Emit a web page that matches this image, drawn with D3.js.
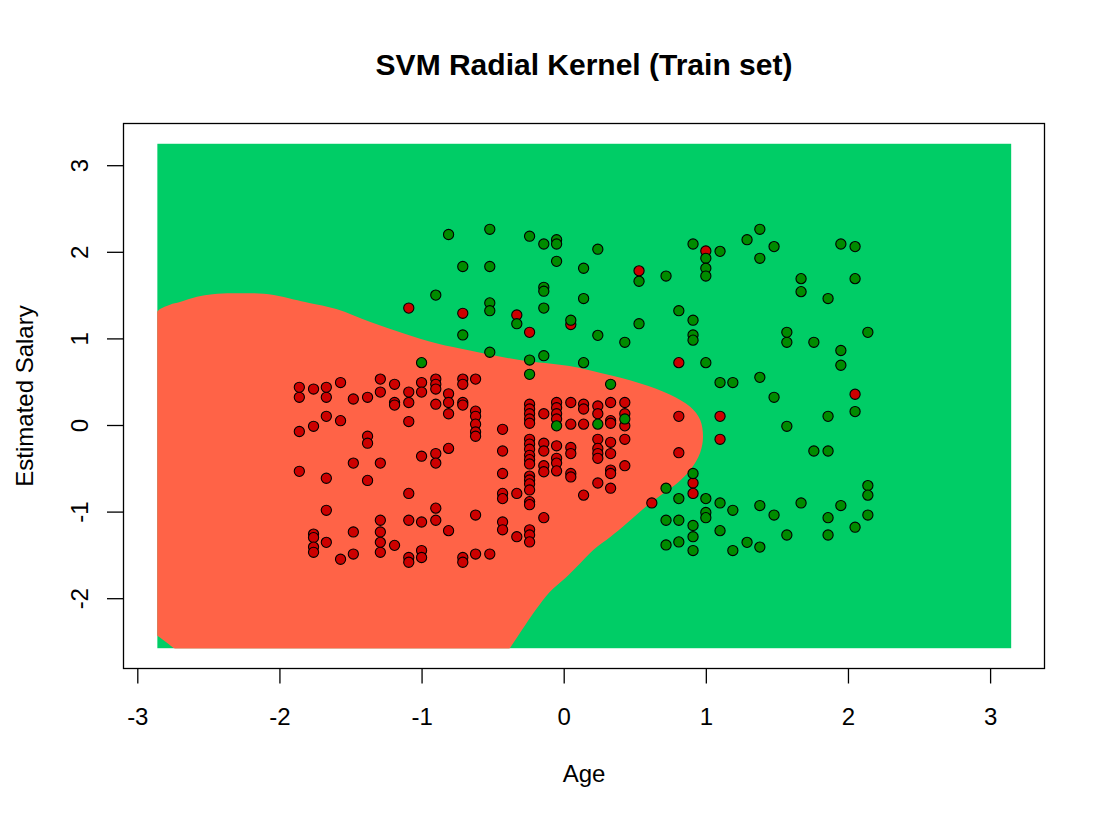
<!DOCTYPE html>
<html>
<head lang="en">
    <meta charset="UTF-8">
    <script type="text/javascript" src="https://d3js.org/d3.v7.min.js"></script>
    <style>
        body { margin: 0; background: #ffffff; }
        text { font-family: "Liberation Sans", Arial, sans-serif; fill: #000000; }
    </style>
</head>
<body>
    <svg id="svm_plot" width="1108" height="822"></svg>
    <script>

        // Plot text
        var chartTitle = "SVM Radial Kernel (Train set)";
        var xLabel = "Age";
        var yLabel = "Estimated Salary";

        // Tick values on both axes
        var xTicks = [-3, -2, -1, 0, 1, 2, 3];
        var yTicks = [-2, -1, 0, 1, 2, 3];

        // Extent of the prediction grid (min - 1, max + 1 of the scaled features)
        var gridX = [-2.86, 3.15];
        var gridY = [-2.58, 3.25];

        // Outline of the region predicted as 0 (the rest of the grid is predicted 1).
        // Points past the grid edge only keep the corners sharp, the grid clips them.
        var classZeroRegion = [
            [-3.00, 1.18], [-2.86, 1.31], [-2.84, 1.34], [-2.77, 1.39], [-2.70, 1.42], [-2.58, 1.48],
            [-2.47, 1.51], [-2.33, 1.52], [-2.18, 1.52], [-2.04, 1.50], [-1.90, 1.45],
            [-1.79, 1.41], [-1.60, 1.34], [-1.36, 1.19], [-1.13, 1.06], [-0.89, 0.94],
            [-0.66, 0.86], [-0.31, 0.75], [0.04, 0.68], [0.26, 0.60], [0.54, 0.48],
            [0.75, 0.35], [0.89, 0.21], [0.96, 0.06], [0.98, -0.14], [0.96, -0.32],
            [0.89, -0.52], [0.80, -0.67], [0.70, -0.79], [0.58, -0.94], [0.44, -1.14],
            [0.33, -1.29], [0.21, -1.44], [0.09, -1.64], [0.01, -1.77], [-0.10, -1.93],
            [-0.19, -2.12], [-0.27, -2.31], [-0.38, -2.58], [-0.49, -2.85],
            [-2.52, -2.85], [-2.74, -2.58], [-2.82, -2.48], [-2.90, -2.38], [-3.00, -2.20]
        ];

        // Training points, [scaled age, scaled salary], class 0 (not purchased)
        var notPurchased = [
            [-1.86, 0.435], [-1.86, 0.32], [-1.86, -0.075], [-1.86, -0.535],
            [-1.76, 0.415], [-1.76, -0.015], [-1.76, -1.26], [-1.76, -1.30], [-1.76, -1.41], [-1.76, -1.47],
            [-1.67, 0.435], [-1.67, 0.32], [-1.67, 0.10], [-1.67, -0.615], [-1.67, -0.985], [-1.67, -1.355],
            [-1.57, 0.49], [-1.57, 0.05], [-1.57, -1.55],
            [-1.48, 0.30], [-1.48, -0.44], [-1.48, -1.235], [-1.48, -1.49],
            [-1.38, 0.32], [-1.38, -0.13], [-1.38, -0.21], [-1.38, -0.64],
            [-1.29, 0.53], [-1.29, 0.38], [-1.29, -0.44], [-1.29, -1.10], [-1.29, -1.235], [-1.29, -1.355], [-1.29, -1.47],
            [-1.19, 0.47], [-1.19, 0.26], [-1.19, 0.23], [-1.19, -1.39],
            [-1.09, 1.35], [-1.09, 0.38], [-1.09, 0.26], [-1.09, 0.04], [-1.09, -0.79], [-1.09, -1.10], [-1.09, -1.53], [-1.09, -1.585],
            [-1.00, 0.49], [-1.00, 0.38], [-1.00, -0.36], [-1.00, -1.12], [-1.00, -1.45], [-1.00, -1.53],
            [-0.90, 0.53], [-0.90, 0.47], [-0.90, 0.415], [-0.90, 0.24], [-0.90, -0.33], [-0.90, -0.44], [-0.90, -0.96], [-0.90, -1.10],
            [-0.81, 0.36], [-0.81, 0.26], [-0.81, 0.13], [-0.81, -0.27], [-0.81, -1.22],
            [-0.71, 1.29], [-0.71, 0.53], [-0.71, 0.47], [-0.71, 0.26], [-0.71, 0.23], [-0.71, -1.53], [-0.71, -1.585],
            [-0.62, 0.53], [-0.62, 0.16], [-0.62, 0.10], [-0.62, 0.01], [-0.62, -0.08], [-0.62, -0.13], [-0.62, -1.04], [-0.62, -1.49],
            [-0.52, -1.49],
            [-0.43, -0.05], [-0.43, -0.30], [-0.43, -0.56], [-0.43, -0.79], [-0.43, -0.85], [-0.43, -1.12], [-0.43, -1.21],
            [-0.33, 1.27], [-0.33, -0.79], [-0.33, -1.29],
            [-0.24, 1.07], [-0.24, 0.24], [-0.24, 0.185], [-0.24, 0.13], [-0.24, 0.07], [-0.24, 0.02],
            [-0.24, -0.165], [-0.24, -0.22], [-0.24, -0.28], [-0.24, -0.35], [-0.24, -0.40], [-0.24, -0.45],
            [-0.24, -0.59], [-0.24, -0.635], [-0.24, -0.68], [-0.24, -0.75], [-0.24, -0.885], [-0.24, -0.92],
            [-0.24, -1.21], [-0.24, -1.27], [-0.24, -1.35],
            [-0.14, 0.13], [-0.14, -0.21], [-0.14, -0.30], [-0.14, -0.47], [-0.14, -0.54], [-0.14, -1.07],
            [-0.05, 0.26], [-0.05, 0.20], [-0.05, 0.13], [-0.05, 0.07], [-0.05, -0.24], [-0.05, -0.385], [-0.05, -0.44], [-0.05, -0.53],
            [0.05, 1.16], [0.05, 0.26], [0.05, 0.01], [0.05, -0.26], [0.05, -0.33], [0.05, -0.56], [0.05, -0.60],
            [0.14, 0.24], [0.14, 0.185], [0.14, 0.01], [0.14, -0.81],
            [0.24, 0.22], [0.24, 0.13], [0.24, -0.165], [0.24, -0.27], [0.24, -0.33], [0.24, -0.385], [0.24, -0.67],
            [0.33, 0.26], [0.33, 0.05], [0.33, 0.02], [0.33, -0.20], [0.33, -0.33], [0.33, -0.52], [0.33, -0.56], [0.33, -0.73],
            [0.43, 0.26], [0.43, 0.13], [0.43, -0.01], [0.43, -0.165], [0.43, -0.47],
            [0.53, 1.78],
            [0.62, -0.90],
            [0.81, 0.72], [0.81, 0.10], [0.81, -0.32],
            [0.91, -0.67], [0.91, -0.79],
            [1.00, 2.01],
            [1.10, 0.10], [1.10, -0.165],
            [2.05, 0.355]
        ];

        // Training points, [scaled age, scaled salary], class 1 (purchased)
        var purchased = [
            [-1.00, 0.72],
            [-0.90, 1.50],
            [-0.81, 2.20],
            [-0.71, 1.83], [-0.71, 1.04],
            [-0.52, 2.26], [-0.52, 1.83], [-0.52, 1.41], [-0.52, 1.32], [-0.52, 0.84],
            [-0.33, 1.17],
            [-0.24, 2.18], [-0.24, 0.75], [-0.24, 0.585],
            [-0.14, 2.09], [-0.14, 1.59], [-0.14, 1.545], [-0.14, 1.35], [-0.14, 0.80],
            [-0.05, 2.14], [-0.05, 2.09], [-0.05, 1.89], [-0.05, -0.01],
            [0.05, 1.21],
            [0.14, 1.81], [0.14, 1.46], [0.14, 0.72],
            [0.24, 2.03], [0.24, 1.035], [0.24, 0.01],
            [0.33, 0.47],
            [0.43, 0.955], [0.43, 0.07],
            [0.53, 1.66], [0.53, 1.17],
            [0.72, 1.72], [0.72, -0.73], [0.72, -1.10], [0.72, -1.385],
            [0.81, 1.32], [0.81, -0.85], [0.81, -1.10], [0.81, -1.35],
            [0.91, 2.09], [0.91, 1.21], [0.91, 1.04], [0.91, 0.98], [0.91, -0.56], [0.91, -1.16], [0.91, -1.29], [0.91, -1.45],
            [1.00, 1.925], [1.00, 1.81], [1.00, 1.72], [1.00, 0.72], [1.00, -0.85], [1.00, -1.01], [1.00, -1.07],
            [1.10, 2.005], [1.10, 0.49], [1.10, -0.90], [1.10, -1.22],
            [1.19, 0.49], [1.19, -0.985], [1.19, -1.45],
            [1.29, 2.14], [1.29, -1.355],
            [1.38, 2.26], [1.38, 1.925], [1.38, 0.55], [1.38, -0.93], [1.38, -1.41],
            [1.48, 2.06], [1.48, 0.32], [1.48, -1.04],
            [1.57, 1.07], [1.57, 0.955], [1.57, -0.015], [1.57, -1.27],
            [1.67, 1.69], [1.67, 1.54], [1.67, -0.90],
            [1.76, 0.955], [1.76, -0.30],
            [1.86, 1.46], [1.86, 0.10], [1.86, -0.30], [1.86, -1.07], [1.86, -1.27],
            [1.95, 2.09], [1.95, 0.86], [1.95, 0.69], [1.95, -0.93],
            [2.05, 2.06], [2.05, 1.69], [2.05, 0.155], [2.05, -1.18],
            [2.14, 1.07], [2.14, -0.70], [2.14, -0.81], [2.14, -1.04]
        ];

        var colZeroRegion = "#FF6347";   // tomato
        var colOneRegion = "#00CD66";    // springgreen3
        var colZeroPoint = "#CD0000";    // red3
        var colOnePoint = "#008B00";     // green4

        // Plot box
        var boxLeft = 123.5, boxRight = 1044.5, boxTop = 123.5, boxBottom = 668.5;

        var xScale = d3.scaleLinear().domain([-3, 3]).range([137.3, 990.1]);
        var yScale = d3.scaleLinear().domain([-2, 3]).range([598.2, 165.2]);

        // plain hyphen minus like R
        function tickText(d){ return String(d); }

        var svg = d3.select("#svm_plot");

        svg.append("rect")
            .attr("width", 1108)
            .attr("height", 822)
            .attr("fill", "#ffffff");

        // Clip everything to the prediction grid
        svg.append("clipPath")
            .attr("id", "gridClip")
            .append("rect")
                .attr("x", xScale(gridX[0]))
                .attr("y", yScale(gridY[1]))
                .attr("width", xScale(gridX[1]) - xScale(gridX[0]))
                .attr("height", yScale(gridY[0]) - yScale(gridY[1]));

        var regionGroup = svg.append("g").attr("clip-path", "url(#gridClip)");

        // Background = class 1 region
        regionGroup.append("rect")
            .attr("x", xScale(gridX[0]))
            .attr("y", yScale(gridY[1]))
            .attr("width", xScale(gridX[1]) - xScale(gridX[0]))
            .attr("height", yScale(gridY[0]) - yScale(gridY[1]))
            .attr("fill", colOneRegion);

        // Class 0 region
        var regionLine = d3.line()
            .x(function(d){ return xScale(d[0]); })
            .y(function(d){ return yScale(d[1]); })
            .curve(d3.curveCatmullRomClosed.alpha(0.5));

        regionGroup.append("path")
            .datum(classZeroRegion)
            .attr("d", regionLine)
            .attr("fill", colZeroRegion);

        // Training points
        var allPoints = notPurchased.map(function(d){ return {x: d[0], y: d[1], cls: 0}; })
            .concat(purchased.map(function(d){ return {x: d[0], y: d[1], cls: 1}; }));

        svg.append("g")
            .selectAll("circle")
            .data(allPoints)
            .enter()
            .append("circle")
                .attr("cx", function(d){ return xScale(d.x); })
                .attr("cy", function(d){ return yScale(d.y); })
                .attr("r", 5.1)
                .attr("fill", function(d){ return d.cls === 0 ? colZeroPoint : colOnePoint; })
                .attr("stroke", "#000000")
                .attr("stroke-width", 1.1);

        // Box
        svg.append("rect")
            .attr("x", boxLeft)
            .attr("y", boxTop)
            .attr("width", boxRight - boxLeft)
            .attr("height", boxBottom - boxTop)
            .attr("fill", "none")
            .attr("stroke", "#000000")
            .attr("stroke-width", 1.3);

        // Axes
        var xAxis = svg.append("g")
            .attr("transform", "translate(0," + boxBottom + ")")
            .call(d3.axisBottom(xScale).tickValues(xTicks).tickSize(15).tickPadding(24).tickFormat(tickText));
        xAxis.select(".domain").remove();
        xAxis.selectAll(".tick line").attr("stroke", "#000000").attr("stroke-width", 1.3);
        xAxis.selectAll(".tick text")
            .style("font-family", "'Liberation Sans', Arial, sans-serif")
            .style("font-size", "24px")
            .attr("fill", "#000000");

        var yAxis = svg.append("g")
            .attr("transform", "translate(" + boxLeft + ",0)")
            .call(d3.axisLeft(yScale).tickValues(yTicks).tickSize(16.5).tickFormat(tickText));
        yAxis.select(".domain").remove();
        yAxis.selectAll(".tick line").attr("stroke", "#000000").attr("stroke-width", 1.3);
        yAxis.selectAll(".tick text")
            .attr("x", null)
            .attr("dy", null)
            .attr("text-anchor", "middle")
            .attr("transform", "translate(-35.2,0) rotate(-90)")
            .style("font-family", "'Liberation Sans', Arial, sans-serif")
            .style("font-size", "24px")
            .attr("fill", "#000000");

        // Labels
        svg.append("text")
            .attr("x", (boxLeft + boxRight) / 2)
            .attr("y", 75)
            .attr("text-anchor", "middle")
            .style("font-size", "30px")
            .style("font-weight", "bold")
            .text(chartTitle);

        svg.append("text")
            .attr("x", (boxLeft + boxRight) / 2)
            .attr("y", 781.5)
            .attr("text-anchor", "middle")
            .style("font-size", "24px")
            .text(xLabel);

        svg.append("text")
            .attr("transform", "translate(33.3," + (boxTop + boxBottom) / 2 + ") rotate(-90)")
            .attr("text-anchor", "middle")
            .style("font-size", "24px")
            .text(yLabel);

    </script>
</body>
</html>
